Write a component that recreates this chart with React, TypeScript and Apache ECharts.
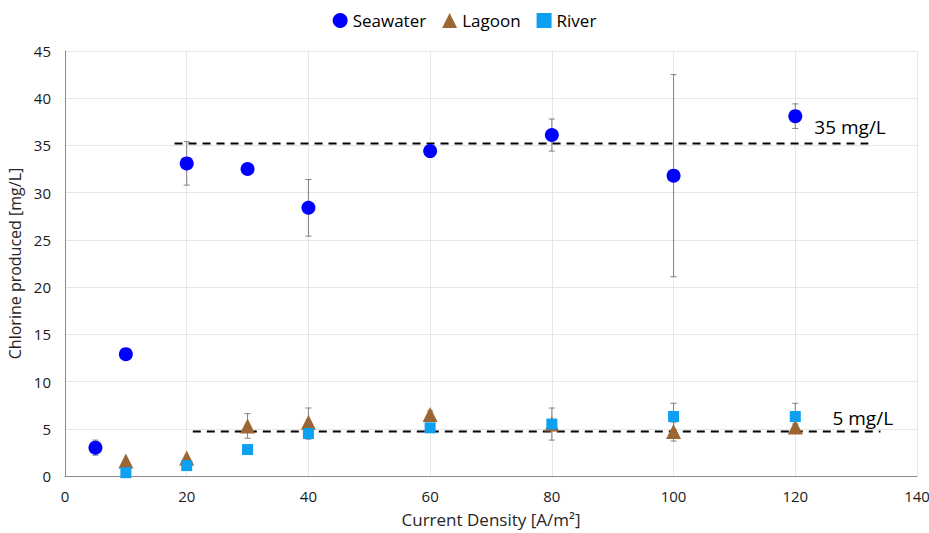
import React, { useEffect, useRef } from "react";
import * as echarts from "echarts";

const xSeawater = [5, 10, 20, 30, 40, 60, 80, 100, 120];
const ySeawater = [3.0, 12.9, 33.1, 32.5, 28.4, 34.4, 36.1, 31.8, 38.1];
const eSeawater = [0.8, 0.5, 2.3, 0, 3.0, 0.3, 1.7, 10.7, 1.3];

const xLagoon = [10, 20, 30, 40, 60, 80, 100, 120];
const yLagoon = [1.6, 1.9, 5.3, 5.7, 6.5, 5.5, 4.7, 5.2];
const eLagoon = [0, 0, 1.3, 1.5, 0.4, 1.7, 1.0, 0.3];

const xRiver = [10, 20, 30, 40, 60, 80, 100, 120];
const yRiver = [0.35, 1.1, 2.8, 4.5, 5.1, 5.5, 6.3, 6.3];
const eRiver = [0, 0.2, 0, 0.6, 0.2, 0.3, 1.4, 1.4];

const line35 = { from: 18, to: 132, y: 35.2, label: "35 mg/L" };
const line5 = { from: 21, to: 134, y: 4.7, label: "5 mg/L" };

const FONT = "'Open Sans', 'Noto Sans', sans-serif";

function pts(xs: number[], ys: number[]) {
  return xs.map((x, i) => [x, ys[i]]);
}
function errs(xs: number[], ys: number[], es: number[]) {
  return xs
    .map((x, i) => [x, ys[i] - es[i], ys[i] + es[i]])
    .filter((d, i) => es[i] > 0);
}

function errorSeries(data: number[][]) {
  return {
    type: "custom",
    silent: true,
    z: 1,
    data,
    encode: { x: 0, y: [1, 2] },
    renderItem: (params: any, api: any) => {
      const x = api.value(0);
      const lo = api.coord([x, api.value(1)]);
      const hi = api.coord([x, api.value(2)]);
      const cap = 3;
      const style = { stroke: "#7f7f7f", lineWidth: 1 };
      return {
        type: "group",
        children: [
          { type: "line", shape: { x1: lo[0], y1: lo[1], x2: hi[0], y2: hi[1] }, style },
          { type: "line", shape: { x1: lo[0] - cap, y1: lo[1], x2: lo[0] + cap, y2: lo[1] }, style },
          { type: "line", shape: { x1: hi[0] - cap, y1: hi[1], x2: hi[0] + cap, y2: hi[1] }, style },
        ],
      };
    },
  };
}

function refLine(l: any, offset: number[]) {
  return {
    type: "line",
    data: [
      [l.from, l.y],
      [l.to, l.y],
    ],
    symbol: "none",
    silent: true,
    z: 3,
    lineStyle: { color: "#000", width: 2, type: [8, 6] },
    endLabel: {
      show: true,
      formatter: l.label,
      fontFamily: FONT,
      fontSize: 19,
      color: "#000",
      offset,
    },
  };
}

export default function App() {
  const ref = useRef<HTMLDivElement>(null);
  useEffect(() => {
    document.body.style.margin = "0";
    const chart = echarts.init(ref.current!, null, { renderer: "svg" });
    chart.setOption({
      animation: false,
      backgroundColor: "#fff",
      textStyle: { fontFamily: FONT },
      legend: {
        top: 7,
        left: "center",
        itemGap: 16,
        itemWidth: 15,
        itemHeight: 15,
        textStyle: { fontSize: 17, color: "#000", fontFamily: FONT },
        data: ["Seawater", "Lagoon", "River"],
      },
      grid: {
        left: 65,
        right: 12,
        top: 51,
        bottom: 57,
        containLabel: false,
        outerBoundsMode: "none",
      },
      xAxis: {
        type: "value",
        min: 0,
        max: 140,
        interval: 20,
        name: "Current Density [A/m²]",
        nameLocation: "middle",
        nameGap: 35,
        nameTextStyle: { fontSize: 17, color: "#262626", fontFamily: FONT },
        axisLine: { show: true, lineStyle: { color: "#8c8c8c", width: 1 } },
        axisTick: { show: false },
        axisLabel: { fontSize: 15, color: "#1a1a1a", margin: 12 },
        splitLine: { show: true, lineStyle: { color: "#e6e6e6" } },
      },
      yAxis: {
        type: "value",
        min: 0,
        max: 45,
        interval: 5,
        name: "Chlorine produced [mg/L]",
        nameLocation: "middle",
        nameGap: 37,
        nameTextStyle: { fontSize: 16, color: "#262626", fontFamily: FONT },
        axisLine: { show: true, lineStyle: { color: "#8c8c8c", width: 1 } },
        axisTick: { show: false },
        axisLabel: { fontSize: 15, color: "#1a1a1a", margin: 14 },
        splitLine: { show: true, lineStyle: { color: "#e6e6e6" } },
      },
      series: [
        errorSeries(errs(xSeawater, ySeawater, eSeawater)),
        errorSeries(errs(xLagoon, yLagoon, eLagoon)),
        errorSeries(errs(xRiver, yRiver, eRiver)),
        refLine(line35, [-62, -17]),
        refLine(line5, [-56, -14]),
        {
          name: "Seawater",
          type: "scatter",
          symbol: "circle",
          symbolSize: 14,
          z: 4,
          itemStyle: { color: "#0000ff", opacity: 1 },
          data: pts(xSeawater, ySeawater),
        },
        {
          name: "Lagoon",
          type: "scatter",
          symbol: "triangle",
          symbolSize: 15,
          z: 4,
          itemStyle: { color: "#9c6634", opacity: 1 },
          data: pts(xLagoon, yLagoon),
        },
        {
          name: "River",
          type: "scatter",
          symbol: "rect",
          symbolSize: 11,
          z: 5,
          itemStyle: { color: "#0ea0f0", opacity: 1 },
          data: pts(xRiver, yRiver),
        },
      ],
    });
    return () => chart.dispose();
  }, []);
  return <div ref={ref} style={{ width: 929, height: 533 }} />;
}
